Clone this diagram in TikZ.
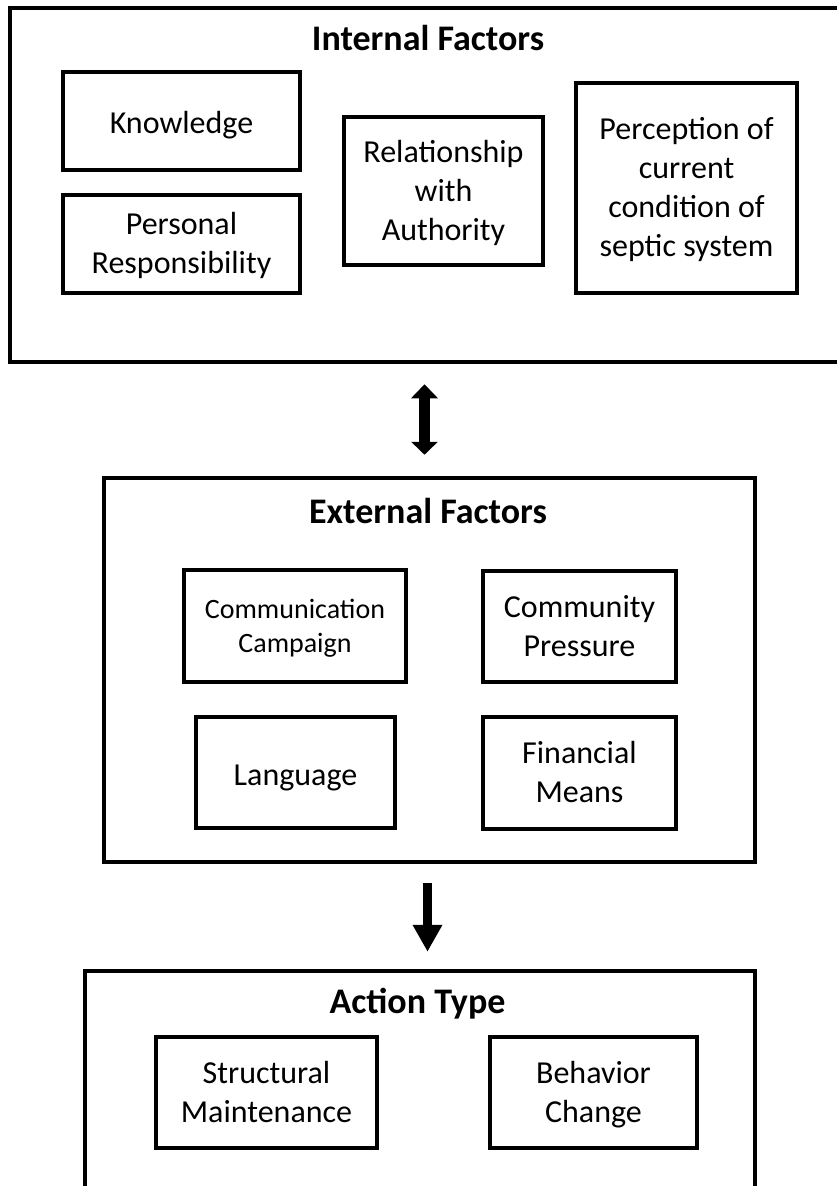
\documentclass[tikz,border=0pt]{standalone}
\usepackage{fontspec}
\setmainfont{Carlito}
\usetikzlibrary{arrows.meta}
\begin{document}
\begin{tikzpicture}[x=1pt,y=-1pt,
  groupbox/.style={draw=black,line width=4.5pt,inner sep=0pt,fill=none},
  itembox/.style={draw=black,line width=3.5pt,inner sep=0pt},
  itemtext/.style={align=center,inner sep=0pt,yshift=-5pt,
    font=\fontsize{32}{39}\selectfont,
    execute at begin node=\strut,execute at end node=\strut},
  smalltext/.style={itemtext,font=\fontsize{28}{34}\selectfont},
  grouptitle/.style={anchor=base,inner sep=0pt,font=\fontsize{36}{42}\selectfont\bfseries},
  blockarrow/.style={line width=11pt,line cap=butt}
]
\useasboundingbox[fill=white] (0,0) rectangle (837,1186);

% Internal factors
\node[groupbox,minimum width=860pt,minimum height=354pt] (internal) at (440,185) {};
\node[grouptitle] (ttlint) at (428,50) {Internal Factors};
\node[itembox,minimum width=237pt,minimum height=98pt,
  label={[itemtext,name=knowtxt]center:Knowledge}] (know) at (181.5,121) {};
\node[itembox,minimum width=237pt,minimum height=98pt,
  label={[itemtext,name=perstxt]center:{Personal\\Responsibility}}] (pers) at (181.5,244) {};
\node[itembox,minimum width=199pt,minimum height=148pt,
  label={[itemtext,name=reltxt]center:{Relationship\\with\\Authority}}] (rel) at (443.5,191) {};
\node[itembox,minimum width=221pt,minimum height=210pt,
  label={[itemtext,name=perctxt]center:{Perception of\\current\\condition of\\septic system}}] (perc) at (686.5,188) {};

% External factors
\node[groupbox,minimum width=651pt,minimum height=384pt] (external) at (429.5,670) {};
\node[grouptitle] (ttlext) at (428,523) {External Factors};
\node[itembox,minimum width=222pt,minimum height=112pt,
  label={[smalltext,name=commtxt]center:{Communication\\Campaign}}] (comm) at (295,626) {};
\node[itembox,minimum width=193pt,minimum height=111pt,
  label={[itemtext,name=cprestxt]center:{Community\\Pressure}}] (cpres) at (579.5,626.5) {};
\node[itembox,minimum width=199pt,minimum height=111pt,
  label={[itemtext,name=langtxt]center:Language}] (lang) at (295.5,772.5) {};
\node[itembox,minimum width=193pt,minimum height=112pt,
  label={[itemtext,name=fintxt]center:{Financial\\Means}}] (fin) at (579.5,773) {};

% Action type
\node[groupbox,minimum width=670pt,minimum height=240pt] (action) at (420,1091) {};
\node[grouptitle] (ttlact) at (417.5,1013) {Action Type};
\node[itembox,minimum width=221pt,minimum height=111pt,
  label={[itemtext,name=structtxt]center:{Structural\\Maintenance}}] (struct) at (266.5,1092.5) {};
\node[itembox,minimum width=207pt,minimum height=111pt,
  label={[itemtext,name=behavtxt]center:{Behavior\\Change}}] (behav) at (593.5,1092.5) {};

% Connectors
\coordinate (ax1) at (424.5,0);
\coordinate (ax2) at (427.5,0);
\draw[blockarrow,
  {Triangle[length=14pt,width=26pt]}-{Triangle[length=13pt,width=26pt]},
  shorten <=20pt,shorten >=21pt]
  (ax1 |- internal.south) -- (ax1 |- external.north);
\draw[blockarrow,line width=9.5pt,
  -{Triangle[length=27pt,width=28pt]},
  shorten <=19pt,shorten >=17pt]
  (ax2 |- external.south) -- (ax2 |- action.north);
\end{tikzpicture}
\end{document}
